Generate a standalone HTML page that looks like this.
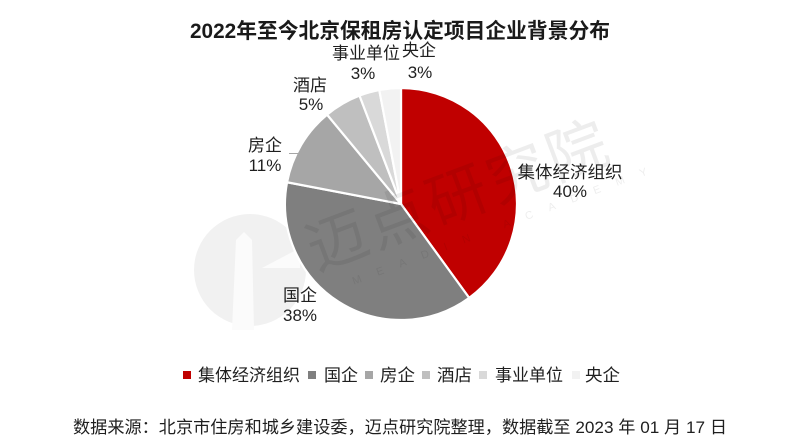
<!DOCTYPE html>
<html>
<head>
<meta charset="utf-8">
<style>
html,body{margin:0;padding:0;background:#fff;}
svg{display:block;}
text{font-family:"Liberation Sans","Noto Sans CJK SC",sans-serif;}
</style>
</head>
<body>
<svg width="800" height="445" viewBox="0 0 800 445" xmlns="http://www.w3.org/2000/svg">
<rect width="800" height="445" fill="#fff"/>

<!-- watermark logo circle -->
<circle cx="250" cy="270" r="56" fill="#f1f1f1"/>
<path d="M236 240 L244 232 L252 240 L254 330 L232 330 Z" fill="#fbfbfb"/>
<path d="M262 268 L300 248 L300 268 Z" fill="#fbfbfb"/>

<!-- pie -->
<g stroke="#fff" stroke-width="2.2" stroke-linejoin="round">
<path d="M401 204 L401 88 A116 116 0 0 1 469.18 297.85 Z" fill="#c00000"/>
<path d="M401 204 L469.18 297.85 A116 116 0 0 1 287.05 182.26 Z" fill="#7f7f7f"/>
<path d="M401 204 L287.05 182.26 A116 116 0 0 1 327.06 114.62 Z" fill="#a6a6a6"/>
<path d="M401 204 L327.06 114.62 A116 116 0 0 1 359.5 95.6 Z" fill="#bfbfbf"/>
<path d="M401 204 L359.5 95.6 A116 116 0 0 1 379.26 90.05 Z" fill="#d9d9d9"/>
<path d="M401 204 L379.26 90.05 A116 116 0 0 1 401 88 Z" fill="#f2f2f2"/>
</g>

<!-- watermark text -->
<g transform="translate(337,240) rotate(-20.6)" fill="#000" fill-opacity="0.07">
<text x="-30" y="22" font-size="60" letter-spacing="4">迈点研究院</text>
<text x="0" y="48" font-size="11" letter-spacing="16.5">MEADIN ACADEMY</text>
</g>

<!-- title -->
<text x="400" y="38" text-anchor="middle" font-size="21" font-weight="bold" fill="#1a1a1a" textLength="420" lengthAdjust="spacingAndGlyphs">2022年至今北京保租房认定项目企业背景分布</text>

<!-- data labels -->
<g font-size="17" fill="#1f1f1f" text-anchor="middle">
<text x="570" y="178" textLength="105" lengthAdjust="spacingAndGlyphs">集体经济组织</text>
<text x="570" y="197">40%</text>
<text x="300" y="301">国企</text>
<text x="300" y="321">38%</text>
<text x="265" y="151">房企</text>
<text x="265" y="171">11%</text>
<text x="310" y="91">酒店</text>
<text x="311" y="110">5%</text>
<text x="366" y="59" textLength="68" lengthAdjust="spacingAndGlyphs">事业单位</text>
<text x="363" y="79">3%</text>
<text x="419" y="56">央企</text>
<text x="420" y="78">3%</text>
</g>
<line x1="289" y1="153.5" x2="300" y2="153.5" stroke="#a6a6a6" stroke-width="1"/>

<!-- legend -->
<g font-size="17" fill="#1f1f1f">
<rect x="183" y="371" width="8" height="8" fill="#c00000"/>
<text x="198" y="381" textLength="102" lengthAdjust="spacingAndGlyphs">集体经济组织</text>
<rect x="308" y="371" width="8" height="8" fill="#7f7f7f"/>
<text x="324" y="381" textLength="34" lengthAdjust="spacingAndGlyphs">国企</text>
<rect x="365" y="371" width="8" height="8" fill="#a6a6a6"/>
<text x="380" y="381" textLength="35" lengthAdjust="spacingAndGlyphs">房企</text>
<rect x="422" y="371" width="8" height="8" fill="#bfbfbf"/>
<text x="437" y="381" textLength="35" lengthAdjust="spacingAndGlyphs">酒店</text>
<rect x="479" y="371" width="8" height="8" fill="#d9d9d9"/>
<text x="495" y="381" textLength="68" lengthAdjust="spacingAndGlyphs">事业单位</text>
<rect x="572" y="371" width="8" height="8" fill="#f2f2f2"/>
<text x="585" y="381" textLength="35" lengthAdjust="spacingAndGlyphs">央企</text>
</g>

<!-- source -->
<text x="73" y="433" font-size="17" fill="#1f1f1f" textLength="654" lengthAdjust="spacingAndGlyphs">数据来源：北京市住房和城乡建设委，迈点研究院整理，数据截至 2023 年 01 月 17 日</text>
</svg>
</body>
</html>
